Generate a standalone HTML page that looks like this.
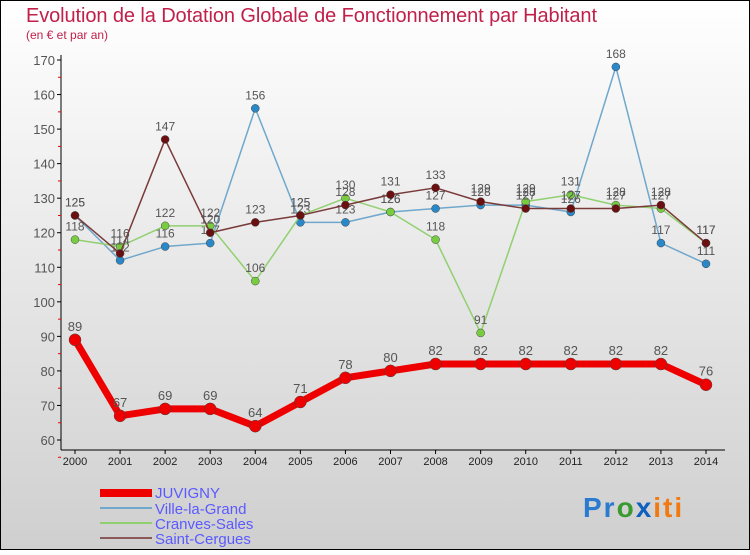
<!DOCTYPE html>
<html><head><meta charset="utf-8"><style>
body{margin:0;width:750px;height:550px;overflow:hidden;font-family:"Liberation Sans",sans-serif}
</style></head><body>
<svg width="750" height="550" id="c" xmlns="http://www.w3.org/2000/svg">
<defs><linearGradient id="bg" x1="0" y1="0" x2="0" y2="1"><stop offset="0" stop-color="#ffffff"/><stop offset="1" stop-color="#cfcfcf"/></linearGradient></defs>
<rect x="0.5" y="0.5" width="749" height="549" fill="url(#bg)" stroke="#000"/>
<text x="26" y="22" font-size="20" fill="#c0204a" textLength="571">Evolution de la Dotation Globale de Fonctionnement par Habitant</text>
<text x="26" y="39" font-size="12" fill="#c0204a">(en € et par an)</text>
<g id="axes"></g><g id="series"></g>
<g>
<rect x="100" y="489" width="52" height="8" fill="#e00"/>
<text x="155" y="498" font-size="15" fill="#5a5aff">JUVIGNY</text>
<line x1="100" y1="508" x2="152" y2="508" stroke="#6fa8cc" stroke-width="2"/>
<text x="155" y="514" font-size="15" fill="#5a5aff">Ville-la-Grand</text>
<line x1="100" y1="523" x2="152" y2="523" stroke="#90d070" stroke-width="2"/>
<text x="155" y="529" font-size="15" fill="#5a5aff">Cranves-Sales</text>
<line x1="100" y1="538" x2="152" y2="538" stroke="#8a5a5a" stroke-width="2"/>
<text x="155" y="544" font-size="15" fill="#5a5aff">Saint-Cergues</text>
</g>
<text x="583" y="517" font-size="28" font-weight="bold" letter-spacing="2"><tspan fill="#2a7ad0">Pr</tspan><tspan fill="#3a9a30">o</tspan><tspan fill="#1060c0">x</tspan><tspan fill="#f07a10">iti</tspan></text>
</svg>
<script>
const years=[2000,2001,2002,2003,2004,2005,2006,2007,2008,2009,2010,2011,2012,2013,2014];
const yTicks=[60,70,80,90,100,110,120,130,140,150,160,170];
const juvigny=[89,67,69,69,64,71,78,80,82,82,82,82,82,82,76];
const villeLaGrand=[125,112,116,117,156,123,123,126,127,128,128,126,168,117,111];
const cranvesSales=[118,116,122,122,106,125,130,126,118,91,129,131,128,127,117];
const saintCergues=[125,114,147,120,123,125,128,131,133,129,127,127,127,128,117];
const NS='http://www.w3.org/2000/svg';
const X=i=>75+i*(706-75)/(years.length-1);
const Y=v=>440-(v-60)*(380/110);
function mk(t,a,p){const e=document.createElementNS(NS,t);for(const k in a)e.setAttribute(k,a[k]);p.appendChild(e);return e;}
const ax=document.getElementById('axes');
const yl=mk('line',{x1:61,y1:55,x2:61,y2:450,stroke:'#000'},ax);


const xl=mk('line',{x1:61,y1:450,x2:725,y2:450,stroke:'#000'},ax);


yTicks.forEach(v=>{const y=Y(v);mk('line',{x1:57,y1:y,x2:61,y2:y,stroke:'#000'},ax);
 mk('line',{x1:58,y1:y+17.3,x2:61,y2:y+17.3,stroke:'#e00'},ax);
 const t=mk('text',{x:55,y:y+5,'font-size':13,fill:'#555','text-anchor':'end'},ax);t.textContent=v;
 
 });
years.forEach((yr,i)=>{const x=X(i);mk('line',{x1:x,y1:450,x2:x,y2:454,stroke:'#000'},ax);
 const t=mk('text',{x:x,y:465,'font-size':11,fill:'#222','text-anchor':'middle'},ax);t.textContent=yr;
 
 });
const sg=document.getElementById('series');
function series(name,data,col,dot,w,r,fs){
 const g=mk('g',{},sg);
 
 
 mk('polyline',{points:data.map((v,i)=>X(i)+','+Y(v)).join(' '),fill:'none',stroke:col,'stroke-width':w,'stroke-linejoin':'round'},g);
 data.forEach((v,i)=>{const c=mk('circle',{cx:X(i),cy:Y(v),r:r,fill:dot,stroke:'#444','stroke-width':0.5},g);
  
  
  const t=mk('text',{x:X(i),y:Y(v)-9,'font-size':fs,fill:'#555','text-anchor':'middle'},g);t.textContent=v;
  
  });
}
series('ville-la-grand',villeLaGrand,'#6fa8cc','#2a88c8',1.5,4,12);
series('cranves-sales',cranvesSales,'#90d070','#78cc40',1.5,4,12);
series('saint-cergues',saintCergues,'#7a3a3a','#6a1010',1.5,4,12);
series('juvigny',juvigny,'#e00','#e00',7,6,13);
</script>
</body></html>
